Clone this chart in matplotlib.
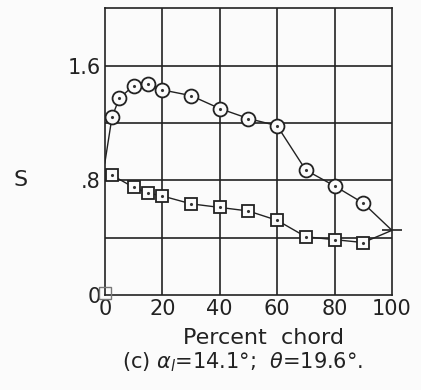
import matplotlib.pyplot as plt

# upper surface (circles)
xu = [2.5, 5, 10, 15, 20, 30, 40, 50, 60, 70, 80, 90]
su = [1.24, 1.37, 1.46, 1.47, 1.43, 1.39, 1.30, 1.23, 1.18, 0.87, 0.76, 0.64]
# lower surface (squares)
xl = [2.5, 10, 15, 20, 30, 40, 50, 60, 70, 80, 90]
sl = [0.835, 0.75, 0.71, 0.69, 0.635, 0.61, 0.585, 0.52, 0.405, 0.385, 0.365]
# leading / trailing edge
x_le, s_le = 0, 0.92
x_te, s_te = 100, 0.45
x_sq0, s_sq0 = 0, 0.01

grid_x = [20, 40, 60, 80]
grid_y = [0.4, 0.8, 1.2, 1.6]

fig = plt.figure(figsize=(4.21, 3.90), dpi=100)
fig.patch.set_facecolor('#fbfbfb')
ax = fig.add_axes([0.249, 0.244, 0.682, 0.735])
ax.set_facecolor('#fbfbfb')

for gx in grid_x:
    ax.axvline(gx, color='#222222', lw=1.2, zorder=1)
for gy in grid_y:
    ax.axhline(gy, color='#222222', lw=1.2, zorder=1)

ax.plot([x_le] + xu + [x_te], [s_le] + su + [s_te], color='#222222', lw=1.0, zorder=3)
ax.plot(xu, su, 'o', ms=10, mfc='#fbfbfb', mec='#222222', mew=1.3, zorder=4)
ax.plot(xu, su, '.', ms=2.5, color='#333333', zorder=5)

ax.plot(xl + [x_te], sl + [s_te], color='#222222', lw=1.0, zorder=3)
ax.plot(xl, sl, 's', ms=8, mfc='#fbfbfb', mec='#222222', mew=1.3, zorder=4)
ax.plot(xl, sl, '.', ms=2.5, color='#333333', zorder=5)

ax.plot([x_sq0], [s_sq0], 's', ms=8, mfc='none', mec='#777777', mew=1.0, zorder=4, clip_on=False)
ax.plot([x_te], [s_te], '_', ms=14, mew=1.2, color='#222222', zorder=5, clip_on=False)

ax.set_xlim(0, 100)
ax.set_ylim(0, 2.0)
ax.set_xticks([0, 20, 40, 60, 80, 100])
ax.set_xticklabels(['0', '20', '40', '60', '80', '100'])
ax.set_yticks([0, 0.8, 1.6])
ax.set_yticklabels(['0', '.8', '1.6'])
ax.tick_params(length=0, labelsize=15, colors='#222222', pad=3)
for sp in ax.spines.values():
    sp.set_color('#222222')
    sp.set_linewidth(1.2)

fig.text(0.048, 0.538, 'S', fontsize=16, ha='center', va='center', color='#222222')
fig.text(0.625, 0.133, 'Percent  chord', fontsize=16, ha='center', va='center', color='#222222')
fig.text(0.577, 0.072, r'(c) $\alpha_{\mathit{l}}$=14.1°;  $\theta$=19.6°.', fontsize=15,
         ha='center', va='center', color='#222222')

fig.savefig('out.png', dpi=100, facecolor=fig.get_facecolor())
